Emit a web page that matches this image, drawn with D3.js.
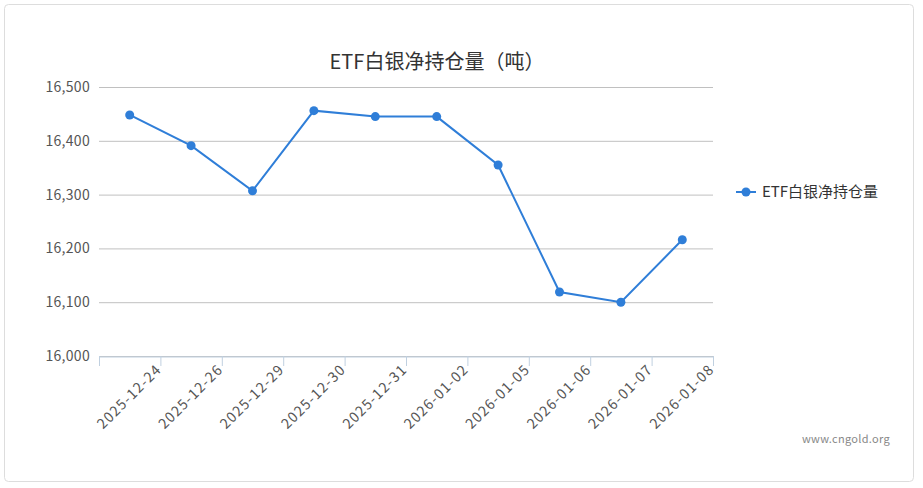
<!DOCTYPE html>
<html lang="zh">
<head>
<meta charset="UTF-8"/>
<title>ETF白银净持仓量</title>
<script src="https://d3js.org/d3.v7.min.js"></script>
<style>
	body { margin: 0; background: #fff; font-family: "Noto Sans CJK SC", "Noto Sans", sans-serif; }
</style>
</head>
<body>
<script>
var dates = ["2025-12-24", "2025-12-26", "2025-12-29", "2025-12-30", "2025-12-31",
             "2026-01-02", "2026-01-05", "2026-01-06", "2026-01-07", "2026-01-08"];
var holdings = [16448, 16391, 16307, 16456, 16445, 16445, 16355, 16119, 16100, 16216];
var yTicks = [16000, 16100, 16200, 16300, 16400, 16500];

var w = 923, h = 488;
var plotLeft = 99, plotRight = 713, plotTop = 87, plotBottom = 356;
var color = "#2f7ed8";

var svg = d3.select("body").append("svg")
	.attr("width", w)
	.attr("height", h);

// outer border
svg.append("rect")
	.attr("x", 4.5).attr("y", 4.5)
	.attr("width", 909).attr("height", 477)
	.attr("rx", 4)
	.attr("fill", "none")
	.attr("stroke", "#ddd");

var xScale = d3.scaleBand().domain(dates).range([plotLeft, plotRight]);
var yScale = d3.scaleLinear().domain([16000, 16500]).range([plotBottom, plotTop]);

// grid lines
svg.selectAll(".grid")
	.data(yTicks)
	.enter()
	.append("line")
	.attr("x1", plotLeft).attr("x2", plotRight)
	.attr("y1", function(d){ return yScale(d) + 0.5; })
	.attr("y2", function(d){ return yScale(d) + 0.5; })
	.attr("stroke", "#c0c0c0");

// y labels
svg.selectAll(".ylab")
	.data(yTicks)
	.enter()
	.append("text")
	.attr("x", plotLeft - 9)
	.attr("y", function(d){ return yScale(d) + 5; })
	.attr("text-anchor", "end")
	.style("font-size", "14px")
	.style("letter-spacing", "0.3px")
	.style("fill", "#555")
	.text(d3.format(","));

// x axis
var xAxis = d3.axisBottom(xScale).tickSize(10).tickSizeOuter(0);
var gx = svg.append("g")
	.attr("transform", "translate(0," + (plotBottom + 0.5) + ")")
	.call(xAxis);
gx.select(".domain").attr("stroke", "#c0d0e0");
gx.selectAll(".tick line").remove();
svg.selectAll(".xtick")
	.data(dates.concat(["end"]))
	.enter()
	.append("line")
	.attr("x1", function(d, i){ return plotLeft + i * xScale.bandwidth() + 0.5; })
	.attr("x2", function(d, i){ return plotLeft + i * xScale.bandwidth() + 0.5; })
	.attr("y1", plotBottom).attr("y2", plotBottom + 10)
	.attr("stroke", "#c0d0e0");
gx.selectAll(".tick text")
	.attr("y", 0)
	.attr("dy", 0)
	.attr("transform", "translate(" + (xScale.bandwidth() / 2 + 2) + ",14) rotate(-45)")
	.attr("text-anchor", "end")
	.style("font-size", "14px")
	.style("letter-spacing", "1.2px")
	.style("font-family", "Noto Sans CJK SC, Noto Sans, sans-serif")
	.style("fill", "#555");

// line
var line = d3.line()
	.x(function(d, i){ return xScale(dates[i]) + xScale.bandwidth() / 2; })
	.y(function(d){ return yScale(d); });
svg.append("path")
	.datum(holdings)
	.attr("d", line)
	.attr("fill", "none")
	.attr("stroke", color)
	.attr("stroke-width", 2);
svg.selectAll(".pt")
	.data(holdings)
	.enter()
	.append("circle")
	.attr("cx", function(d, i){ return xScale(dates[i]) + xScale.bandwidth() / 2; })
	.attr("cy", function(d){ return yScale(d); })
	.attr("r", 4.5)
	.attr("fill", color);

// title
svg.append("text")
	.attr("x", 437).attr("y", 69)
	.attr("text-anchor", "middle")
	.style("font-size", "20px")
	.style("fill", "#333")
	.text("ETF白银净持仓量（吨）");

// legend
svg.append("line")
	.attr("x1", 736).attr("x2", 756)
	.attr("y1", 192).attr("y2", 192)
	.attr("stroke", color).attr("stroke-width", 2);
svg.append("circle").attr("cx", 746).attr("cy", 192).attr("r", 4.5).attr("fill", color);
svg.append("text")
	.attr("x", 762).attr("y", 197)
	.style("font-size", "15px")
	.style("fill", "#333")
	.text("ETF白银净持仓量");

// watermark
svg.append("text")
	.attr("x", 890).attr("y", 443)
	.attr("text-anchor", "end")
	.style("font-size", "11px")
	.style("letter-spacing", "0.3px")
	.style("fill", "#888")
	.text("www.cngold.org");
</script>
</body>
</html>
